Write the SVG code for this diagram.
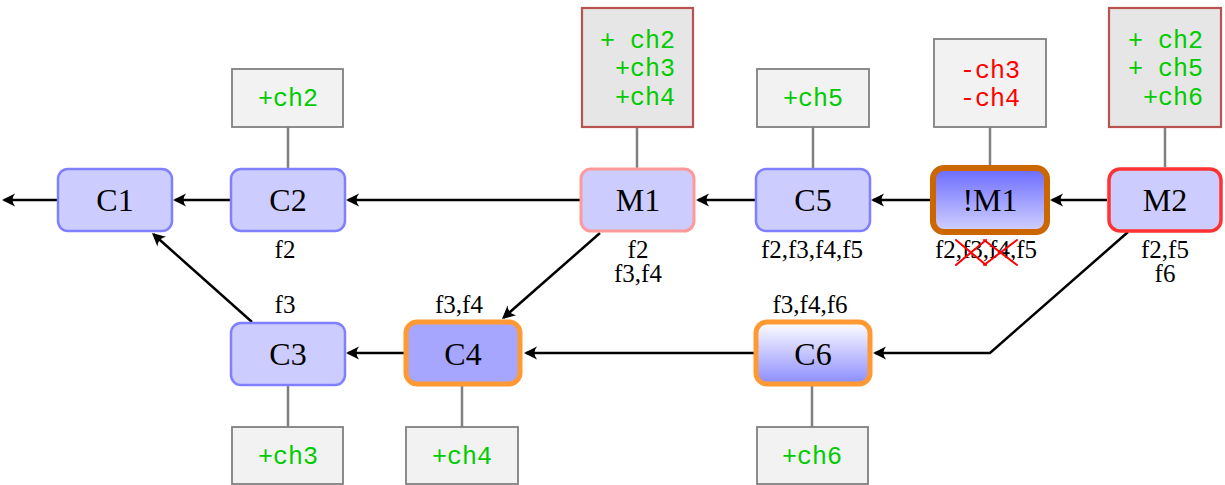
<svg xmlns="http://www.w3.org/2000/svg" width="1225" height="485" viewBox="0 0 1225 485">
<style>
.node{fill:#ccccff;stroke:#8080ff;stroke-width:2.5}
.lbl{font-family:"Liberation Serif",serif;font-size:32px;text-anchor:middle;fill:#000}
.sm{font-family:"Liberation Serif",serif;font-size:25px;text-anchor:middle;fill:#000}
.box{fill:#f2f2f2;stroke:#808080;stroke-width:1.8}
.mbox{fill:#e6e6e6;stroke:#b85450;stroke-width:2.2}
.code{font-family:"Liberation Mono",monospace;font-size:25px;fill:#00cc00}
.red{fill:#ff0000}
.tie{stroke:#808080;stroke-width:2.5;fill:none}
.arr{stroke:#000;stroke-width:2.5;fill:none;marker-end:url(#ah)}
.x{stroke:#ff0000;stroke-width:2;stroke-linecap:round}
</style>
<defs>
<marker id="ah" markerUnits="userSpaceOnUse" markerWidth="20" markerHeight="20" orient="auto" overflow="visible" refX="0" refY="0">
<path d="M2,0 L-11,-6.5 Q-6,0 -11,6.5 Z" fill="#000"/>
</marker>
<linearGradient id="gM" x1="0" y1="0" x2="0" y2="1">
<stop offset="0" stop-color="#6a6aff"/>
<stop offset="1" stop-color="#d2d2ff"/>
</linearGradient>
<linearGradient id="gC6" x1="0" y1="0" x2="0" y2="1">
<stop offset="0" stop-color="#ffffff"/>
<stop offset="1" stop-color="#8c8cff"/>
</linearGradient>
</defs>

<g id="connectors">
<line class="tie" x1="288" y1="127" x2="288" y2="168"/>
<line class="tie" x1="637" y1="127" x2="637" y2="168"/>
<line class="tie" x1="813" y1="127" x2="813" y2="168"/>
<line class="tie" x1="990" y1="127" x2="990" y2="166"/>
<line class="tie" x1="1165" y1="127" x2="1165" y2="167"/>
<line class="tie" x1="288" y1="385" x2="288" y2="427"/>
<line class="tie" x1="462" y1="386" x2="462" y2="427"/>
<line class="tie" x1="812" y1="386" x2="812" y2="427"/>
<line class="arr" x1="58" y1="200" x2="4" y2="200"/>
<line class="arr" x1="230" y1="200" x2="175" y2="200"/>
<line class="arr" x1="581" y1="200" x2="348" y2="200"/>
<line class="arr" x1="756" y1="200" x2="698" y2="200"/>
<line class="arr" x1="931" y1="200" x2="873" y2="200"/>
<line class="arr" x1="1107" y1="200" x2="1052" y2="200"/>
<line class="arr" x1="252" y1="322" x2="153.5" y2="234.3"/>
<line class="arr" x1="600" y1="233" x2="503.5" y2="317.7"/>
<polyline class="arr" points="1128,232 990,353 875,353"/>
<line class="arr" x1="404" y1="353" x2="348" y2="353"/>
<line class="arr" x1="754" y1="353" x2="526" y2="353"/>
</g>

<g id="C1">
<rect class="node" x="58" y="169" width="114" height="62" rx="10"/>
<text class="lbl" x="115" y="211">C1</text>
</g>
<g id="C2">
<rect class="node" x="231" y="169" width="114" height="62" rx="10"/>
<text class="lbl" x="288" y="211">C2</text>
<text class="sm" x="285" y="258">f2</text>
</g>
<g id="box-C2">
<rect class="box" x="232" y="69" width="111" height="58"/>
<text class="code" x="288" y="106" text-anchor="middle">+ch2</text>
</g>
<g id="M1">
<rect class="node" style="stroke:#ff9999;stroke-width:3" x="581" y="169" width="113" height="62" rx="10"/>
<text class="lbl" x="638" y="211">M1</text>
<text class="sm" x="638" y="258">f2</text>
<text class="sm" x="638" y="282">f3,f4</text>
</g>
<g id="box-M1">
<rect class="mbox" x="582" y="8" width="111" height="119"/>
<text class="code" x="675" y="48" text-anchor="end">+ ch2</text>
<text class="code" x="675" y="76" text-anchor="end">+ch3</text>
<text class="code" x="675" y="105" text-anchor="end">+ch4</text>
</g>
<g id="C5">
<rect class="node" x="756" y="169" width="114" height="62" rx="10"/>
<text class="lbl" x="813" y="211">C5</text>
<text class="sm" x="812" y="258">f2,f3,f4,f5</text>
</g>
<g id="box-C5">
<rect class="box" x="757" y="69" width="112" height="58"/>
<text class="code" x="813" y="106" text-anchor="middle">+ch5</text>
</g>
<g id="notM1">
<rect style="fill:url(#gM);stroke:#cc6600;stroke-width:6" x="933" y="168" width="114" height="64" rx="11"/>
<text class="lbl" x="990" y="211">!M1</text>
<text class="sm" x="986" y="258">f2,f3,f4,f5</text>
<line class="x" x1="956" y1="240" x2="986" y2="265"/>
<line class="x" x1="956" y1="265" x2="986" y2="240"/>
<line class="x" x1="984" y1="240" x2="1017" y2="265"/>
<line class="x" x1="984" y1="265" x2="1017" y2="240"/>
</g>
<g id="box-notM1">
<rect class="box" x="934" y="39" width="112" height="88"/>
<text class="code red" x="990" y="78" text-anchor="middle">-ch3</text>
<text class="code red" x="990" y="106" text-anchor="middle">-ch4</text>
</g>
<g id="M2">
<rect class="node" style="stroke:#ff3333;stroke-width:3.5" x="1109" y="169" width="112" height="62" rx="11"/>
<text class="lbl" x="1165" y="211">M2</text>
<text class="sm" x="1165" y="258">f2,f5</text>
<text class="sm" x="1165" y="282">f6</text>
</g>
<g id="box-M2">
<rect class="mbox" x="1109" y="8" width="112" height="119"/>
<text class="code" x="1203" y="48" text-anchor="end">+ ch2</text>
<text class="code" x="1203" y="76" text-anchor="end">+ ch5</text>
<text class="code" x="1203" y="105" text-anchor="end">+ch6</text>
</g>
<g id="C3">
<rect class="node" x="231" y="323" width="114" height="62" rx="10"/>
<text class="lbl" x="288" y="365">C3</text>
<text class="sm" x="285" y="313">f3</text>
</g>
<g id="box-C3">
<rect class="box" x="232" y="427" width="111" height="57"/>
<text class="code" x="288" y="464" text-anchor="middle">+ch3</text>
</g>
<g id="C4">
<rect style="fill:#a6a6ff;stroke:#ff9933;stroke-width:5" x="406" y="322" width="114" height="62" rx="11"/>
<text class="lbl" x="463" y="365">C4</text>
<text class="sm" x="459" y="313">f3,f4</text>
</g>
<g id="box-C4">
<rect class="box" x="406" y="427" width="112" height="57"/>
<text class="code" x="462" y="464" text-anchor="middle">+ch4</text>
</g>
<g id="C6">
<rect style="fill:url(#gC6);stroke:#ff9933;stroke-width:5" x="756" y="322" width="114" height="62" rx="11"/>
<text class="lbl" x="813" y="365">C6</text>
<text class="sm" x="810" y="313">f3,f4,f6</text>
</g>
<g id="box-C6">
<rect class="box" x="757" y="427" width="111" height="57"/>
<text class="code" x="812" y="464" text-anchor="middle">+ch6</text>
</g>
</svg>
